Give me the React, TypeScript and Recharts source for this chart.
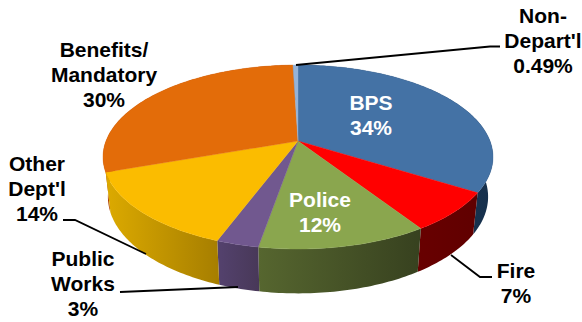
import { Pie, PieChart } from "recharts";

const names = ["BPS", "Fire", "Police", "Public Works", "Other Dept'l", "Benefits/ Mandatory", "Non-Depart'l"];
const values = [34, 7, 12, 3, 14, 30, 0.49];
const topColors = ["#4472a5", "#ff0000", "#8aa64e", "#71588f", "#fbbc00", "#e36c09", "#95b3d7"];
const wallLight = ["#1e3a5c", "#680000", "#56662f", "#54426e", "#dcaa00", "#b04000", "#506a8c"];
const wallDark = ["#16304c", "#600000", "#37411f", "#483858", "#a67e00", "#a03000", "#506a8c"];

const table = names.map((name, i) => ({
  name,
  value: values[i],
  fill: topColors[i],
  light: wallLight[i],
  dark: wallDark[i],
}));

// text and leader lines for each slice
const labelLines = [
  ["BPS", "34%"],
  ["Fire", "7%"],
  ["Police", "12%"],
  ["Public", "Works", "3%"],
  ["Other", "Dept'l", "14%"],
  ["Benefits/", "Mandatory", "30%"],
  ["Non-", "Depart'l", "0.49%"],
];
const labelAnchors = [
  { x: 371, y: 110, color: "#fff" },
  { x: 516, y: 278, color: "#000" },
  { x: 320, y: 207, color: "#fff" },
  { x: 83, y: 266, color: "#000" },
  { x: 37, y: 171, color: "#000" },
  { x: 104, y: 57, color: "#000" },
  { x: 543, y: 23, color: "#000" },
];
const leaders = [
  "",
  "451,255 480,277 492,277",
  "",
  "120,292 238,287",
  "63,220 75,220 146,254",
  "",
  "296,65 490,46.5 500,46.5",
];

const CX = 298;
const CY = 141;
const RX = 192;
const RY = 89.2;
const TILT = 0.174;
const DEPTH = 39;
const FIRST_BACK_SLICE = 5;

// top rim of the disc, seen in perspective
function rim(deg: number) {
  const a = (deg * Math.PI) / 180;
  const w = 1 + TILT * Math.sin(a);
  return { x: CX + (RX * Math.cos(a)) / w, y: CY - (RY * Math.sin(a)) / w };
}

// lower edge of the side wall
function lowerRim(deg: number) {
  const p = rim(deg);
  return { x: CX + (p.x - CX) * 0.975, y: CY + DEPTH + (p.y - CY) * 1.05 };
}

function arc(from: number, to: number, fn: (deg: number) => { x: number; y: number }) {
  const steps = Math.max(2, Math.ceil(Math.abs(to - from)));
  const pts = [];
  for (let i = 0; i <= steps; i++) {
    const p = fn(from + ((to - from) * i) / steps);
    pts.push(`${p.x.toFixed(2)} ${p.y.toFixed(2)}`);
  }
  return pts;
}

function TopFace(props: any) {
  const pts = arc(props.startAngle, props.endAngle, rim);
  return (
    <path
      d={`M${CX} ${CY} L${pts.join(" L")} Z`}
      fill={props.fill}
      stroke={props.fill}
      strokeWidth={0.4}
    />
  );
}

function Wall(props: any) {
  const upper = arc(props.startAngle, props.endAngle, rim);
  const lower = arc(props.endAngle, props.startAngle, lowerRim);
  const id = `wall-${props.index}`;
  return (
    <g>
      <defs>
        <linearGradient id={id} x1="0" y1="0" x2="1" y2="0">
          <stop offset="0" stopColor={props.payload.light} />
          <stop offset="1" stopColor={props.payload.dark} />
        </linearGradient>
      </defs>
      <path d={`M${upper.join(" L")} L${lower.join(" L")} Z`} fill={`url(#${id})`} />
    </g>
  );
}

// slices running round the back go underneath the walls in front of them
const BackWall = (props: any) => (props.index >= FIRST_BACK_SLICE ? <Wall {...props} /> : <g />);
const FrontWall = (props: any) => (props.index < FIRST_BACK_SLICE ? <Wall {...props} /> : <g />);

function SliceLabel({ index }: any) {
  const anchor = labelAnchors[index];
  return (
    <g>
      {leaders[index] && (
        <polyline points={leaders[index]} fill="none" stroke="#000" strokeWidth={1.8} />
      )}
      <text
        x={anchor.x}
        y={anchor.y}
        fill={anchor.color}
        textAnchor="middle"
        fontFamily="'Liberation Sans', Arial, sans-serif"
        fontWeight="bold"
        fontSize={21}
      >
        {labelLines[index].map((line, i) => (
          <tspan key={line} x={anchor.x} dy={i === 0 ? 0 : 25}>
            {line}
          </tspan>
        ))}
      </text>
    </g>
  );
}

export default function App() {
  const pieProps = {
    data: table,
    dataKey: "value",
    nameKey: "name",
    cx: CX,
    cy: CY,
    outerRadius: 100,
    startAngle: 90,
    endAngle: -270,
    labelLine: false,
    isAnimationActive: false,
  };
  return (
    <div style={{ position: "absolute", left: 0, top: 0, width: 582, height: 322, background: "#fff" }}>
      <PieChart width={582} height={322} margin={{ top: 0, right: 0, bottom: 0, left: 0 }}>
        <Pie {...pieProps} shape={BackWall} label={false} />
        <Pie {...pieProps} shape={FrontWall} label={false} />
        <Pie {...pieProps} shape={TopFace} label={SliceLabel} />
      </PieChart>
    </div>
  );
}
